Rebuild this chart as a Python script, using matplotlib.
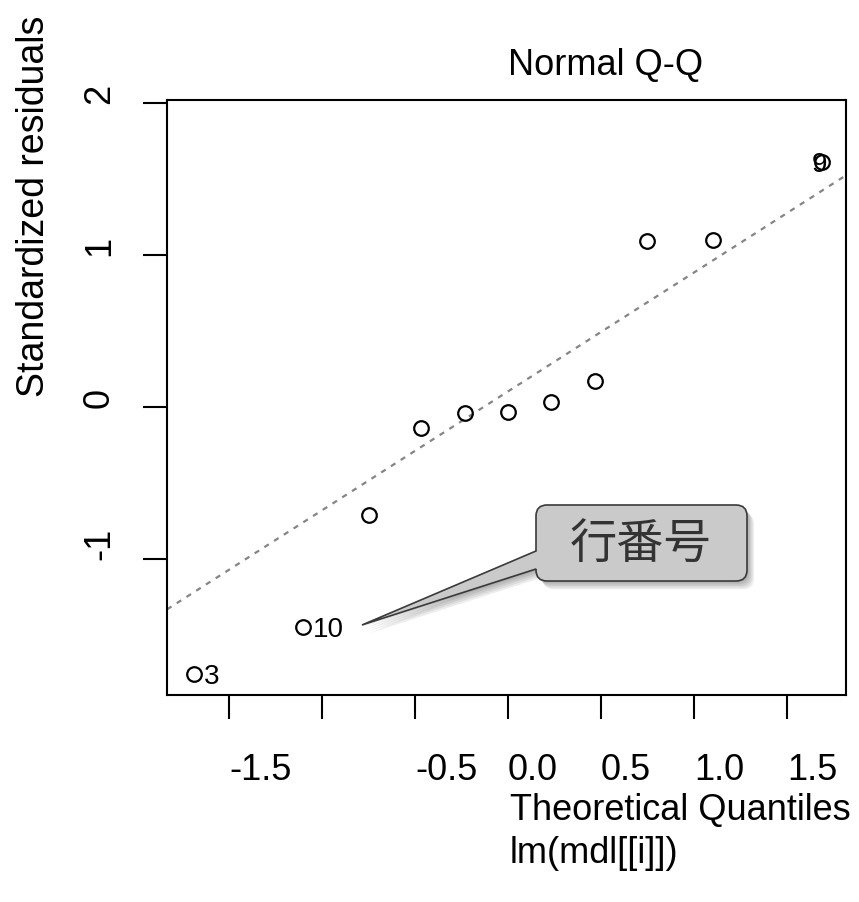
import matplotlib
matplotlib.use("Agg")
import matplotlib.pyplot as plt
import matplotlib.patheffects as pe
from matplotlib.path import Path
from matplotlib.patches import PathPatch
from matplotlib.transforms import Affine2D
import numpy as np

plt.rcParams["font.family"] = ["Liberation Sans", "DejaVu Sans"]

# theoretical quantiles and standardized residuals (sorted)
theo_q = [-1.69, -1.10, -0.75, -0.47, -0.23, 0.0, 0.23, 0.47, 0.75, 1.10, 1.69]
std_res = [-1.76, -1.45, -0.71, -0.14, -0.04, -0.03, 0.03, 0.17, 1.09, 1.10, 1.61]
# row numbers of the extreme residuals
point_ids = {0: "3", 1: "10", 10: "9"}

x_ticks = [-1.5, -1.0, -0.5, 0.0, 0.5, 1.0, 1.5]
x_ticklabels = ["-1.5", "", "-0.5", "0.0", "0.5", "1.0", "1.5"]
y_ticks = [-1, 0, 1, 2]

W, H = 859, 903
fig = plt.figure(figsize=(W / 100, H / 100), dpi=100)
ax = fig.add_axes([167 / W, 1 - 696 / H, (846 - 167) / W, (696 - 101) / H])

ax.set_xlim(-1.834, 1.818)
ax.set_ylim(-1.895, 2.02)

# qqline through the quartiles
y_sorted = np.sort(std_res)
q1, q3 = np.quantile(y_sorted, [0.25, 0.75])
z = 0.6744898
slope = (q3 - q1) / (2 * z)
intercept = q1 + slope * z
ax.axline((0, intercept), slope=slope, color="#858585", lw=1.6,
          linestyle=(0, (2.4, 2.8)), zorder=1)

ax.plot(theo_q, std_res, "o", mfc="none", mec="black", ms=10.5, mew=1.6,
        zorder=3)

for i, lab in point_ids.items():
    if theo_q[i] > 0:
        ax.annotate(lab, (theo_q[i], std_res[i]), xytext=(-2, -1.5),
                    textcoords="offset points", ha="center", va="center",
                    fontsize=20)
    else:
        ax.annotate(lab, (theo_q[i], std_res[i]), xytext=(7, -1),
                    textcoords="offset points", ha="left", va="center",
                    fontsize=20)

for s in ax.spines.values():
    s.set_linewidth(1.5)

ax.set_xticks(x_ticks)
ax.set_xticklabels(x_ticklabels, ha="left")
ax.set_yticks(y_ticks)
ax.set_yticklabels([str(v) for v in y_ticks], rotation=90, va="bottom")
ax.tick_params(length=17, width=1.5, labelsize=26)
ax.tick_params(axis="x", pad=24)
ax.tick_params(axis="y", pad=19)

fig.text(508 / W, 1 - 66 / H, "Normal Q-Q", ha="left", va="center",
         fontsize=26)
fig.text(34 / W, 1 - 397 / H, "Standardized residuals", rotation=90,
         ha="center", va="bottom", fontsize=27)
fig.text(510 / W, 1 - 811 / H, "Theoretical Quantiles", ha="left",
         va="center", fontsize=26)
fig.text(510 / W, 1 - 854 / H, "lm(mdl[[i]])", ha="left", va="center",
         fontsize=26)

# callout box with pointer, drawn in pixel units
px = Affine2D().scale(1 / 100) + fig.dpi_scale_trans
L, R, T, B, r = 536, 747, 506, 582, 11
b1, b2 = 552, 570
tip = (362, 626)
pts = [
    ((L + r, T), Path.MOVETO),
    ((R - r, T), Path.LINETO),
    ((R, T), Path.CURVE3), ((R, T + r), Path.CURVE3),
    ((R, B - r), Path.LINETO),
    ((R, B), Path.CURVE3), ((R - r, B), Path.CURVE3),
    ((L + r, B), Path.LINETO),
    ((L, B), Path.CURVE3), ((L, B - r), Path.CURVE3),
    ((L, b2), Path.LINETO),
    (tip, Path.LINETO),
    ((L, b1), Path.LINETO),
    ((L, T + r), Path.LINETO),
    ((L, T), Path.CURVE3), ((L + r, T), Path.CURVE3),
    ((L + r, T), Path.CLOSEPOLY),
]
verts = [(x, H - y) for (x, y), _ in pts]
codes = [c for _, c in pts]
callout = PathPatch(Path(verts, codes), transform=px, facecolor="#cacaca",
                    edgecolor="#3a3a3a", lw=1.2, zorder=5)
shadow = [pe.SimplePatchShadow(offset=(o, -o * 1.2), shadow_rgbFace="black",
                               alpha=0.07) for o in (1, 2, 3, 4, 5)]
callout.set_path_effects(shadow + [pe.Normal()])
fig.add_artist(callout)

fig.text(641 / W, 1 - 545 / H, "行番号", ha="center", va="center",
         fontsize=34, color="#333333",
         family=["Noto Sans CJK JP", "DejaVu Sans"], zorder=6)

fig.savefig("out.png", dpi=100)
